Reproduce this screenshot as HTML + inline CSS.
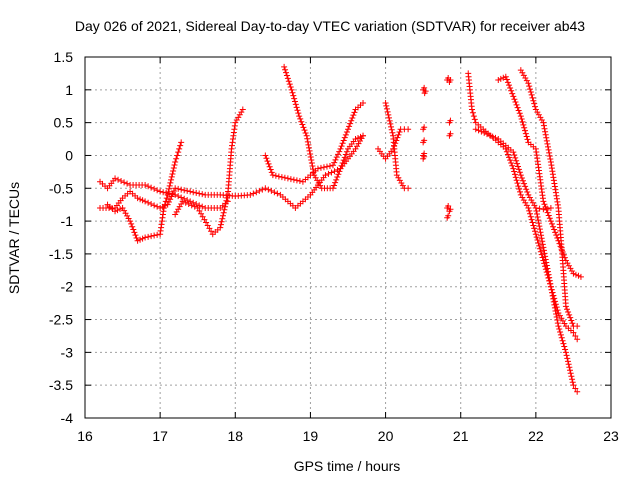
<!DOCTYPE html>
<html><head><meta charset="utf-8"><style>
body{margin:0;background:#fff}
svg{display:block;font-family:"Liberation Sans",sans-serif}
</style></head><body>
<svg id="chart" width="640" height="480" viewBox="0 0 640 480">
<rect width="640" height="480" fill="#fff"/>
<text x="330" y="31" font-size="14" text-anchor="middle">Day 026 of 2021, Sidereal Day-to-day VTEC variation (SDTVAR) for receiver ab43</text>
<text x="347" y="471" font-size="14" text-anchor="middle">GPS time / hours</text>
<text transform="translate(19,238) rotate(-90)" font-size="14" text-anchor="middle">SDTVAR / TECUs</text>
<g id="grid"></g><g id="axes"></g><g id="marks"></g>
</svg>
<script>
const xTicks=[16,17,18,19,20,21,22,23];
const yTicks=[1.5,1,0.5,0,-0.5,-1,-1.5,-2,-2.5,-3,-3.5,-4];
const yTickLabels=["1.5","1","0.5","0","-0.5","-1","-1.5","-2","-2.5","-3","-3.5","-4"];
const trackA=[[16.2,-0.4],[16.3,-0.5],[16.4,-0.35],[16.6,-0.45],[16.8,-0.45],[17.0,-0.55],[17.2,-0.6],[17.4,-0.7],[17.6,-0.8],[17.8,-0.8],[17.9,-0.7]];
const trackB=[[16.2,-0.8],[16.4,-0.8],[16.5,-0.65],[16.6,-0.55],[16.7,-0.65],[16.8,-0.7],[17.0,-0.8],[17.1,-0.75],[17.2,-0.5],[17.4,-0.55],[17.6,-0.6],[17.8,-0.6],[18.0,-0.62],[18.2,-0.6],[18.4,-0.5],[18.6,-0.6],[18.8,-0.8],[19.0,-0.6],[19.2,-0.3],[19.4,-0.2],[19.6,0.1],[19.7,0.3]];
const trackC=[[16.3,-0.75],[16.4,-0.85],[16.5,-0.8],[16.6,-1.0],[16.7,-1.3],[16.8,-1.25],[17.0,-1.2],[17.05,-0.8],[17.1,-0.6],[17.2,-0.1],[17.28,0.2]];
const trackD=[[17.2,-0.9],[17.3,-0.7],[17.5,-0.8],[17.7,-1.2],[17.8,-1.1],[17.9,-0.6],[17.95,0.1],[18.0,0.5],[18.1,0.7]];
const trackE=[[18.4,0],[18.5,-0.3],[18.7,-0.35],[18.9,-0.4],[19.0,-0.3],[19.1,-0.2],[19.3,-0.15],[19.4,0.1],[19.5,0.4],[19.6,0.7],[19.7,0.8]];
const trackF=[[18.65,1.35],[18.75,1.0],[18.85,0.6],[18.95,0.3],[19.05,-0.3],[19.15,-0.5],[19.3,-0.5],[19.4,-0.2],[19.5,0.1],[19.6,0.25],[19.7,0.3]];
const trackG=[[19.9,0.1],[20.0,-0.05],[20.1,0.1],[20.2,0.4],[20.3,0.4]];
const trackH=[[20.0,0.8],[20.1,0.3],[20.15,-0.3],[20.25,-0.5],[20.3,-0.5]];
const trackI=[[21.1,1.25],[21.15,0.7],[21.2,0.5],[21.4,0.3],[21.6,0.1],[21.7,-0.2],[21.8,-0.6],[21.9,-0.8],[22.0,-1.2],[22.1,-1.6],[22.2,-2.0],[22.3,-2.4],[22.4,-2.6],[22.5,-2.7],[22.55,-2.8]];
const trackJ=[[21.5,1.15],[21.6,1.2],[21.7,0.9],[21.8,0.6],[21.9,0.2],[22.0,0.1],[22.1,-0.7],[22.2,-1.0],[22.3,-1.3],[22.4,-1.6],[22.5,-1.8],[22.6,-1.85]];
const trackK=[[21.8,1.3],[21.9,1.1],[22.0,0.7],[22.1,0.5],[22.2,-0.1],[22.3,-0.8],[22.35,-1.5],[22.4,-2.3],[22.5,-2.6],[22.55,-2.6]];
const trackL=[[21.2,0.4],[21.5,0.25],[21.7,0.05],[21.8,-0.3],[21.9,-0.6],[22.0,-0.8],[22.1,-1.4],[22.2,-2.0],[22.3,-2.6],[22.4,-3.0],[22.5,-3.5],[22.55,-3.6]];
const trackM=[[22.0,-0.8],[22.1,-0.82],[22.2,-0.8]];
const cluster1=[[20.5,1.0],[20.52,0.95],[20.5,0.4],[20.5,0.2],[20.5,0.0],[20.5,-0.05]];
const cluster2=[[20.82,1.15],[20.85,1.12],[20.85,0.5],[20.85,0.3],[20.82,-0.8],[20.85,-0.85],[20.82,-0.95]];
const tracks=[trackA,trackB,trackC,trackD,trackE,trackF,trackG,trackH,trackI,trackJ,trackK,trackL,trackM];
const clusters=[cluster1,cluster2];
const X0=85,X1=611,Y0=57,Y1=418;
const xs=t=>X0+(t-16)/(23-16)*(X1-X0);
const ys=v=>Y0+(1.5-v)/(1.5+4)*(Y1-Y0);
const NS="http://www.w3.org/2000/svg";
function mk(tag,attrs,parent){const e=document.createElementNS(NS,tag);for(const k in attrs)e.setAttribute(k,attrs[k]);parent.appendChild(e);return e;}
const grid=document.getElementById('grid'),axes=document.getElementById('axes'),marks=document.getElementById('marks');
xTicks.forEach((t,i)=>{
 if(i>0&&i<xTicks.length-1){const g=mk('line',{x1:xs(t),x2:xs(t),y1:Y0,y2:Y1,stroke:'#a0a0a0','stroke-dasharray':'2,3','stroke-width':1},grid);
 }
 const tk=mk('line',{x1:xs(t),x2:xs(t),y1:Y1,y2:Y1-6,stroke:'#000'},axes);
 
 const tk2=mk('line',{x1:xs(t),x2:xs(t),y1:Y0,y2:Y0+6,stroke:'#000'},axes);
 
 const l=mk('text',{x:xs(t),y:Y1+23,'font-size':14,'text-anchor':'middle'},axes);l.textContent=String(t);
 
});
yTicks.forEach((v,i)=>{
 if(i>0&&i<yTicks.length-1){const g=mk('line',{x1:X0,x2:X1,y1:ys(v),y2:ys(v),stroke:'#a0a0a0','stroke-dasharray':'2,3','stroke-width':1},grid);
 }
 const tk=mk('line',{x1:X0,x2:X0+6,y1:ys(v),y2:ys(v),stroke:'#000'},axes);
 
 const tk2=mk('line',{x1:X1,x2:X1-6,y1:ys(v),y2:ys(v),stroke:'#000'},axes);
 
 const l=mk('text',{x:X0-12,y:ys(v)+5,'font-size':14,'text-anchor':'end'},axes);l.textContent=yTickLabels[i];
 
});
const frame=mk('rect',{x:X0,y:Y0,width:X1-X0,height:Y1-Y0,fill:'none',stroke:'#000'},axes);

function plus(x,y){return `M${x-3},${y}h6M${x},${y-3}v6`;}
tracks.forEach(tr=>{
 let d='';
 for(let i=1;i<tr.length;i++){const [a,b]=[tr[i-1],tr[i]];const n=Math.max(1,Math.round(Math.hypot(xs(b[0])-xs(a[0]),ys(b[1])-ys(a[1]))/3.2));
   for(let k=0;k<n;k++){const f=k/n;d+=plus(xs(a[0])+(xs(b[0])-xs(a[0]))*f,ys(a[1])+(ys(b[1])-ys(a[1]))*f);}}
 const last=tr[tr.length-1];d+=plus(xs(last[0]),ys(last[1]));
 const p=mk('path',{d:d,stroke:'#f00','stroke-width':1,fill:'none'},marks);
 
});
clusters.forEach(cl=>{
 let d='';cl.forEach(q=>{d+=plus(xs(q[0]),ys(q[1]));d+=plus(xs(q[0])+1,ys(q[1])-2);});
 const p=mk('path',{d:d,stroke:'#f00','stroke-width':1,fill:'none'},marks);
 
});
</script>
</body></html>
